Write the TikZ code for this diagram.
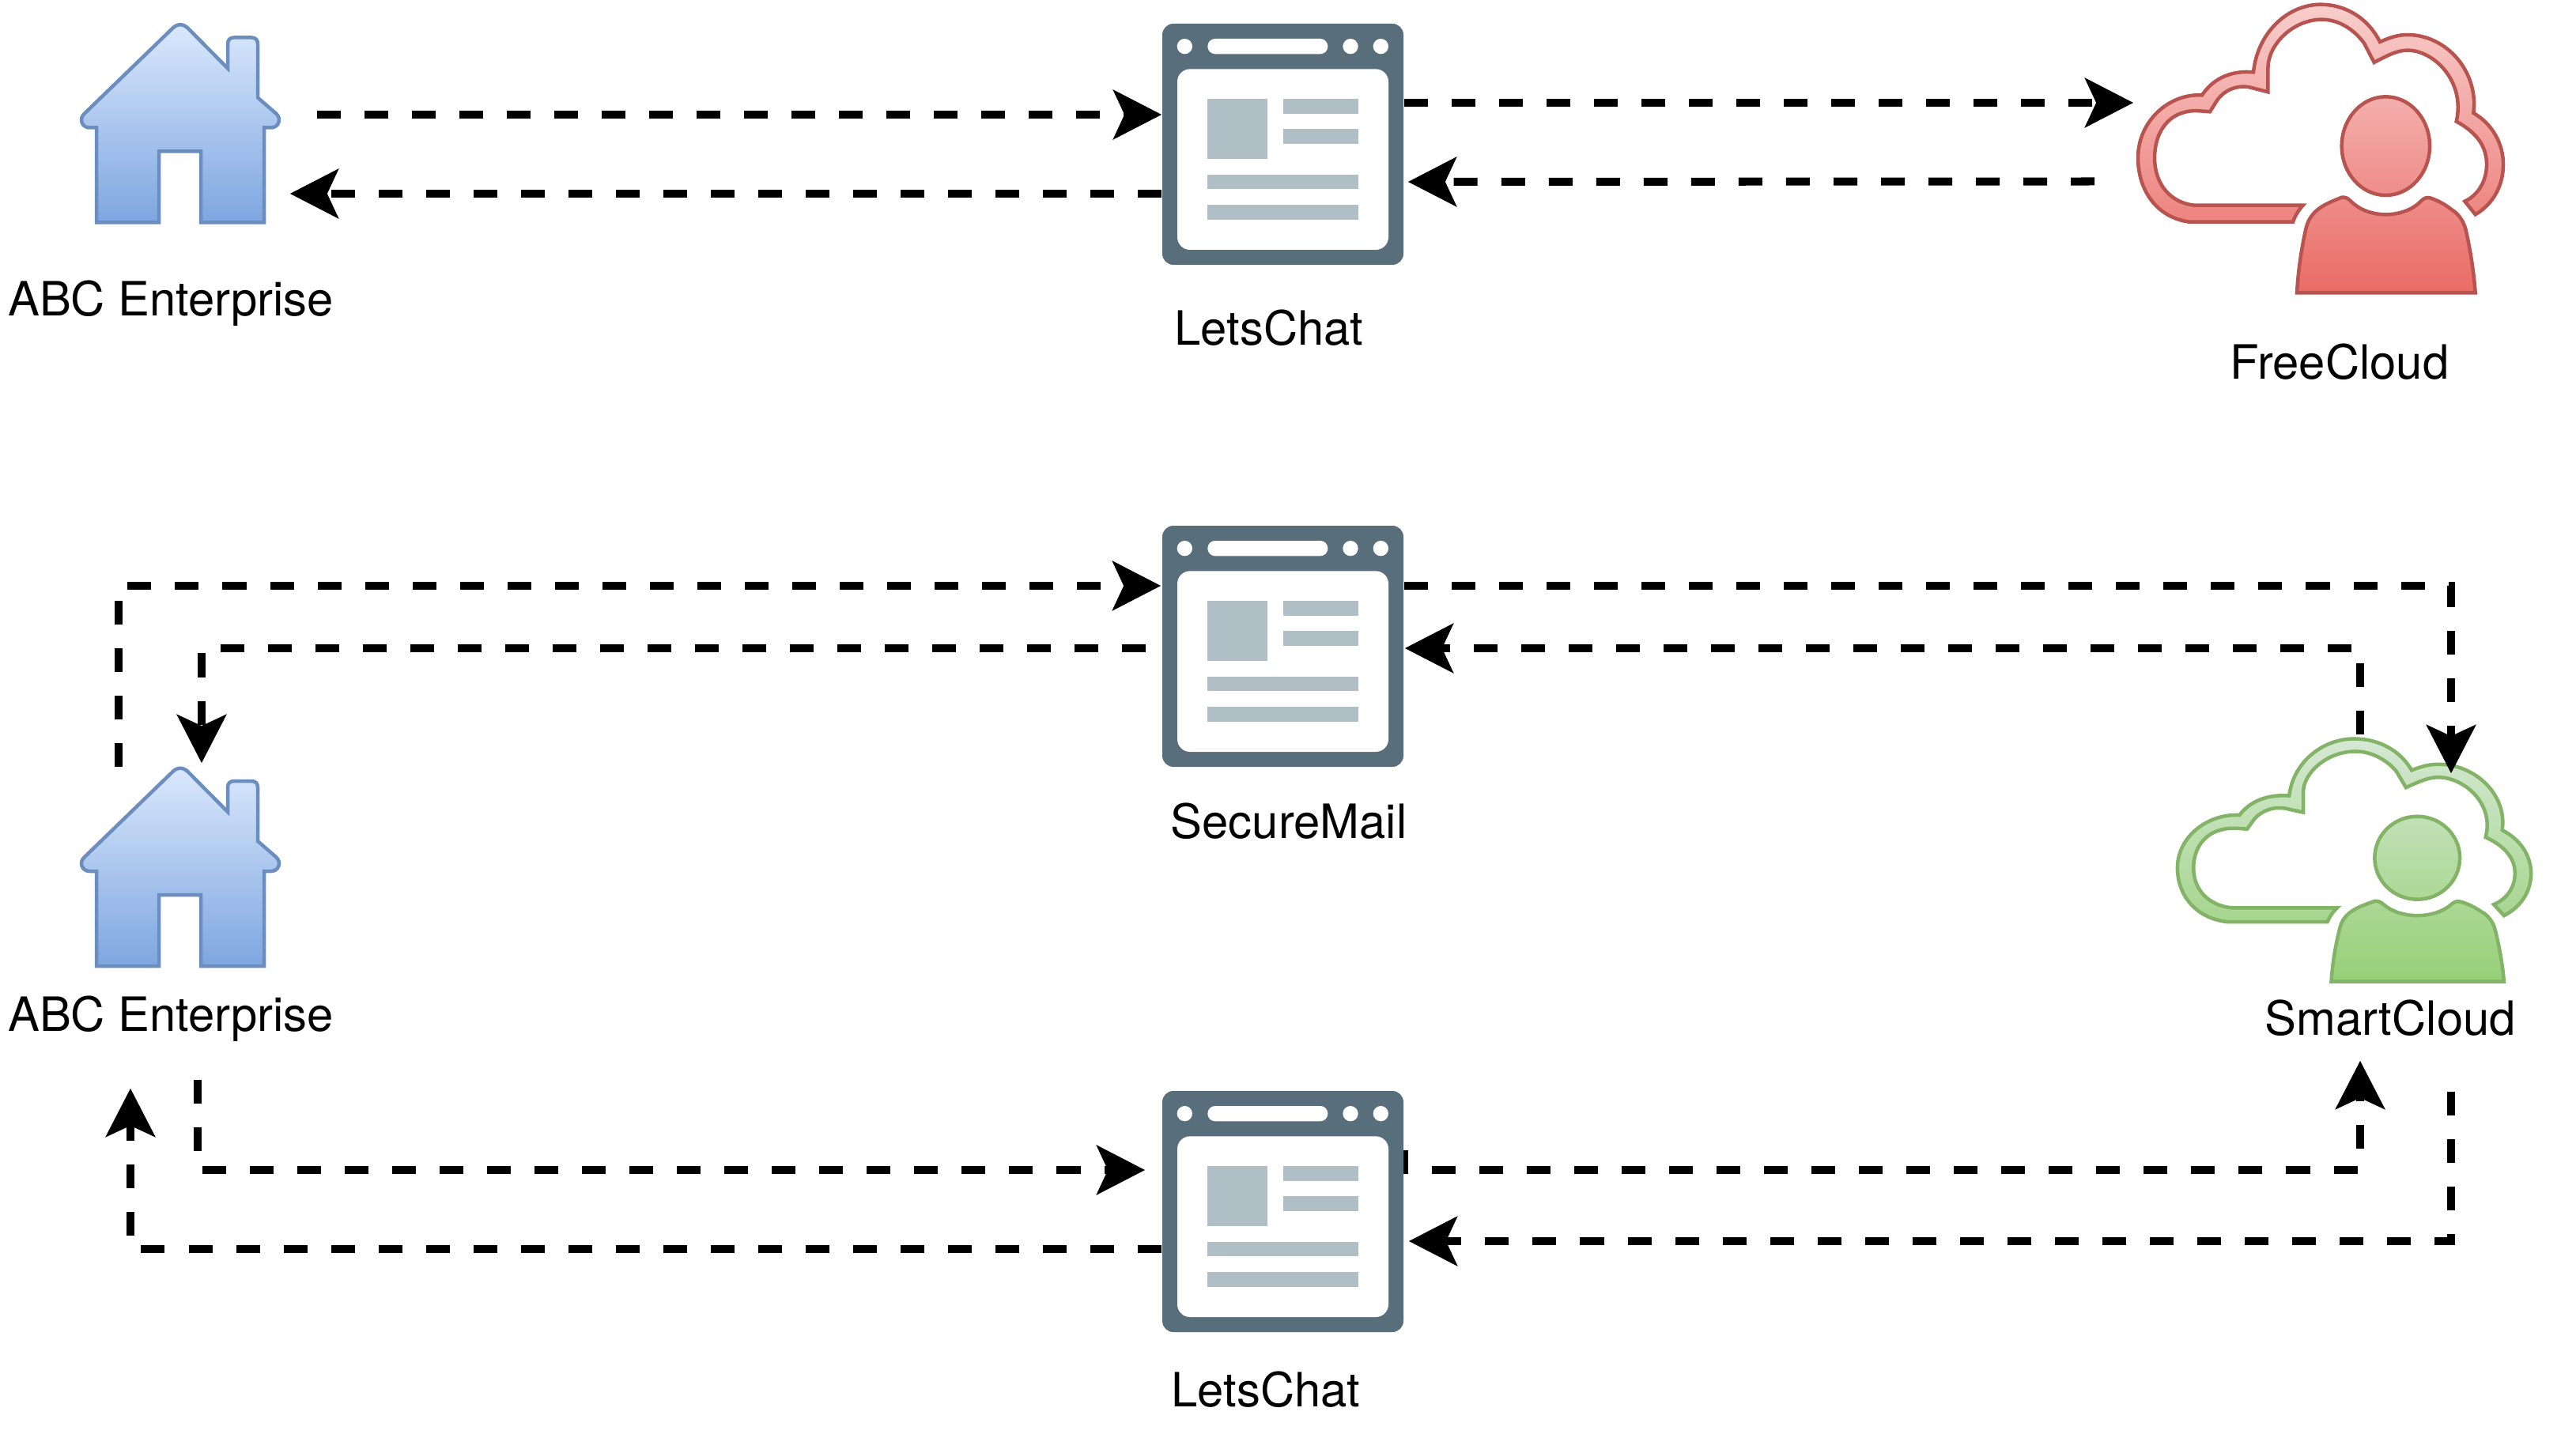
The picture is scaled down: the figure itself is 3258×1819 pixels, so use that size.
\documentclass[tikz,border=0pt]{standalone}
\usepackage{fontspec}
\setmainfont{TeX Gyre Heros}
\usetikzlibrary{arrows.meta}
\definecolor{NetBlueLine}{HTML}{6C8EBF}
\definecolor{NetBlueTop}{HTML}{DAE8FC}
\definecolor{NetBlueEnd}{HTML}{7EA6E0}
\definecolor{NetRedLine}{HTML}{B85450}
\definecolor{NetRedTop}{HTML}{F8CECC}
\definecolor{NetRedEnd}{HTML}{EA6B66}
\definecolor{NetGreenLine}{HTML}{82B366}
\definecolor{NetGreenTop}{HTML}{D5E8D4}
\definecolor{NetGreenEnd}{HTML}{97D077}
\definecolor{NetSlate}{HTML}{586E7A}
\definecolor{NetMist}{HTML}{B0BEC5}
\tikzset{
  net/flow/.style={-{Stealth[length=6.1mm,width=6.2mm,inset=1.4mm]}, line width=1mm, dash pattern=on 3mm off 3mm, draw=black},
  net/blueskin/.style={draw=NetBlueLine, line width=0.45mm, top color=NetBlueTop, bottom color=NetBlueEnd},
  net/redskin/.style={draw=NetRedLine, line width=0.45mm, top color=NetRedTop, bottom color=NetRedEnd},
  net/greenskin/.style={draw=NetGreenLine, line width=0.45mm, top color=NetGreenTop, bottom color=NetGreenEnd},
  net/caption/.style={anchor=base, inner sep=0pt, font=\fontsize{17}{20}\selectfont, text=black},
  net/housebox/.style={inner sep=0pt, minimum width=2.5cm, minimum height=2.53cm},
  net/pagebox/.style={inner sep=0pt, minimum size=3.05cm},
  net/redbox/.style={inner sep=0pt, minimum width=4.64cm, minimum height=3.67cm},
  net/greenbox/.style={inner sep=0pt, minimum width=4.49cm, minimum height=3.09cm},
  pics/house/.style={code={
    \path[net/blueskin] (-27,125) -- (-27,35) -- (26,35) -- (26,125) -- (106,125) -- (106,5) -- (115,5)
      .. controls (124,5) and (129,-6) .. (121,-13)
      -- (98,-33) -- (98,-101)
      .. controls (98,-106) and (95,-109) .. (90,-109)
      -- (68,-109)
      .. controls (63,-109) and (60,-106) .. (60,-101)
      -- (60,-70) -- (10.5,-120)
      .. controls (4,-127) and (-4,-127) .. (-10.5,-120)
      -- (-121,-13)
      .. controls (-129,-6) and (-124,5) .. (-115,5)
      -- (-106,5) -- (-106,125) -- cycle;
  }},
  pics/cloudperson/.style={code={
    \path[#1, scale=1/3, shift={(-765,-565)}]
      (265,843) .. controls (140,825) and (72,720) .. (72,600)
      .. controls (72,460) and (190,355) .. (315,362)
      .. controls (360,295) and (430,268) .. (510,275)
      .. controls (525,125) and (640,18) .. (765,18)
      .. controls (860,18) and (945,70) .. (990,160)
      .. controls (1030,142) and (1060,133) .. (1095,133)
      .. controls (1240,133) and (1365,270) .. (1345,430)
      .. controls (1415,470) and (1458,545) .. (1458,625)
      .. controls (1458,705) and (1420,775) .. (1352,815)
      -- (1312,765)
      .. controls (1365,740) and (1395,685) .. (1395,625)
      .. controls (1395,560) and (1360,505) .. (1280,462)
      .. controls (1315,310) and (1195,192) .. (1095,192)
      .. controls (1060,192) and (1030,205) .. (968,238)
      -- (930,165)
      .. controls (890,110) and (830,75) .. (770,75)
      .. controls (660,75) and (565,170) .. (565,260)
      -- (565,350) -- (495,332)
      .. controls (430,320) and (385,360) .. (370,385)
      -- (345,425)
      .. controls (290,420) and (270,420) .. (245,428)
      .. controls (180,445) and (135,510) .. (135,600)
      .. controls (135,700) and (195,770) .. (285,780)
      -- (698,780)
      .. controls (680,800) and (668,820) .. (660,843)
      -- cycle
      (1012,555) ellipse [x radius=167, y radius=187]
      (675,1112) .. controls (680,1020) and (695,930) .. (710,865)
      .. controls (720,825) and (745,800) .. (770,785)
      .. controls (790,772) and (820,760) .. (845,750)
      .. controls (860,748) and (870,755) .. (880,765)
      .. controls (915,800) and (965,815) .. (1012,815)
      .. controls (1060,815) and (1110,800) .. (1145,765)
      .. controls (1155,755) and (1165,748) .. (1180,752)
      .. controls (1205,760) and (1235,775) .. (1260,795)
      .. controls (1285,810) and (1305,835) .. (1315,870)
      .. controls (1330,935) and (1345,1020) .. (1352,1112)
      -- cycle;
  }},
  pics/webpage/.style={code={
    \begin{scope}[scale=1/3, shift={(-547.5,-517.5)}]
      \fill[NetSlate, rounded corners=1.4mm] (90,60) rectangle (1005,975);
      \fill[white, rounded corners=1.6mm] (147,232) rectangle (948,918);
      \fill[white, rounded corners=0.95mm] (262,117) rectangle (718,175);
      \foreach \x in {175,804,919} {\fill[white] (\x,146) circle [radius=29];}
      \fill[NetMist] (262,346) rectangle (490,574);
      \fill[NetMist] (548,346) rectangle (833,403);
      \fill[NetMist] (548,460) rectangle (833,517);
      \fill[NetMist] (262,632) rectangle (833,688);
      \fill[NetMist] (262,746) rectangle (833,803);
    \end{scope}
  }}
}
\begin{document}
\begin{tikzpicture}[x=0.01cm,y=-0.01cm]
  \useasboundingbox (0,0) rectangle (3258,1819);
  \foreach \nm/\x/\y in {enterpriseA/228/156.5,enterpriseB/228/1097}
  {\node[net/housebox] (\nm) at (\x,\y) {}; \pic at (\nm.center) {house};}
  \foreach \nm/\y in {letschatA/182.5,securemail/817.5,letschatB/1532.5}
  {\node[net/pagebox] (\nm) at (1622.5,\y) {};}
  \node[net/redbox] (freecloud) at (2935,188) {};
  \pic at (freecloud.center) {cloudperson=net/redskin};
  \node[net/greenbox] (smartcloud) at (2977.5,1088) {};
  \pic[xscale=0.968,yscale=0.842] at (smartcloud.center) {cloudperson=net/greenskin};

  \draw[net/flow] ([shift={(47,-11.5)}]enterpriseA.east) -- ([shift={(0,-37.5)}]letschatA.west);
  \draw[net/flow] ([shift={(0,62.5)}]letschatA.west) -- ([shift={(13,88.5)}]enterpriseA.east);
  \draw[net/flow] ([shift={(0,-52.5)}]letschatA.east) -- ([shift={(-4,-58)}]freecloud.west);
  \draw[net/flow] ([shift={(-53,41.5)}]freecloud.west) -- ([shift={(5,47.5)}]letschatA.east);

  \draw[net/flow] ([shift={(-78,0)}]enterpriseB.north) |- ([shift={(-1,-76.5)}]securemail.west);
  \draw[net/flow] ([shift={(-20,2.5)}]securemail.west) -| ([shift={(27,-4.5)}]enterpriseB.north);
  \draw[net/flow] ([shift={(0,-76.5)}]securemail.east) -| ([shift={(122.5,45.5)}]smartcloud.north);
  \draw[net/flow] ([shift={(7.5,-3.5)}]smartcloud.north) |- ([shift={(1,2.5)}]securemail.east);

  \draw[net/flow] ([shift={(22,141.5)}]enterpriseB.south) |- ([shift={(-21,-52.5)}]letschatB.west);
  \draw[net/flow] ([shift={(0,47.5)}]letschatB.west) -| ([shift={(-63,152.5)}]enterpriseB.south);
  \draw[net/flow] ([shift={(0,-77.5)}]letschatB.east) -- ++(0,25) -| ([shift={(7.5,98.5)}]smartcloud.south);
  \draw[net/flow] ([shift={(122.5,137.5)}]smartcloud.south) |- ([shift={(6,37.5)}]letschatB.east);

  \foreach \nm in {letschatA,securemail,letschatB}
  {\pic at (\nm.center) {webpage};}

  \foreach \nm/\txt/\x/\y in {
    captionA/ABC Enterprise/216/400,captionB/LetsChat/1605/437,captionC/FreeCloud/2959/480,
    captionD/SecureMail/1630/1060,captionE/ABC Enterprise/216/1304,captionF/SmartCloud/3023/1309,
    captionG/LetsChat/1601/1779}
  {\node[net/caption] (\nm) at (\x,\y) {\txt};}
\end{tikzpicture}
\end{document}
